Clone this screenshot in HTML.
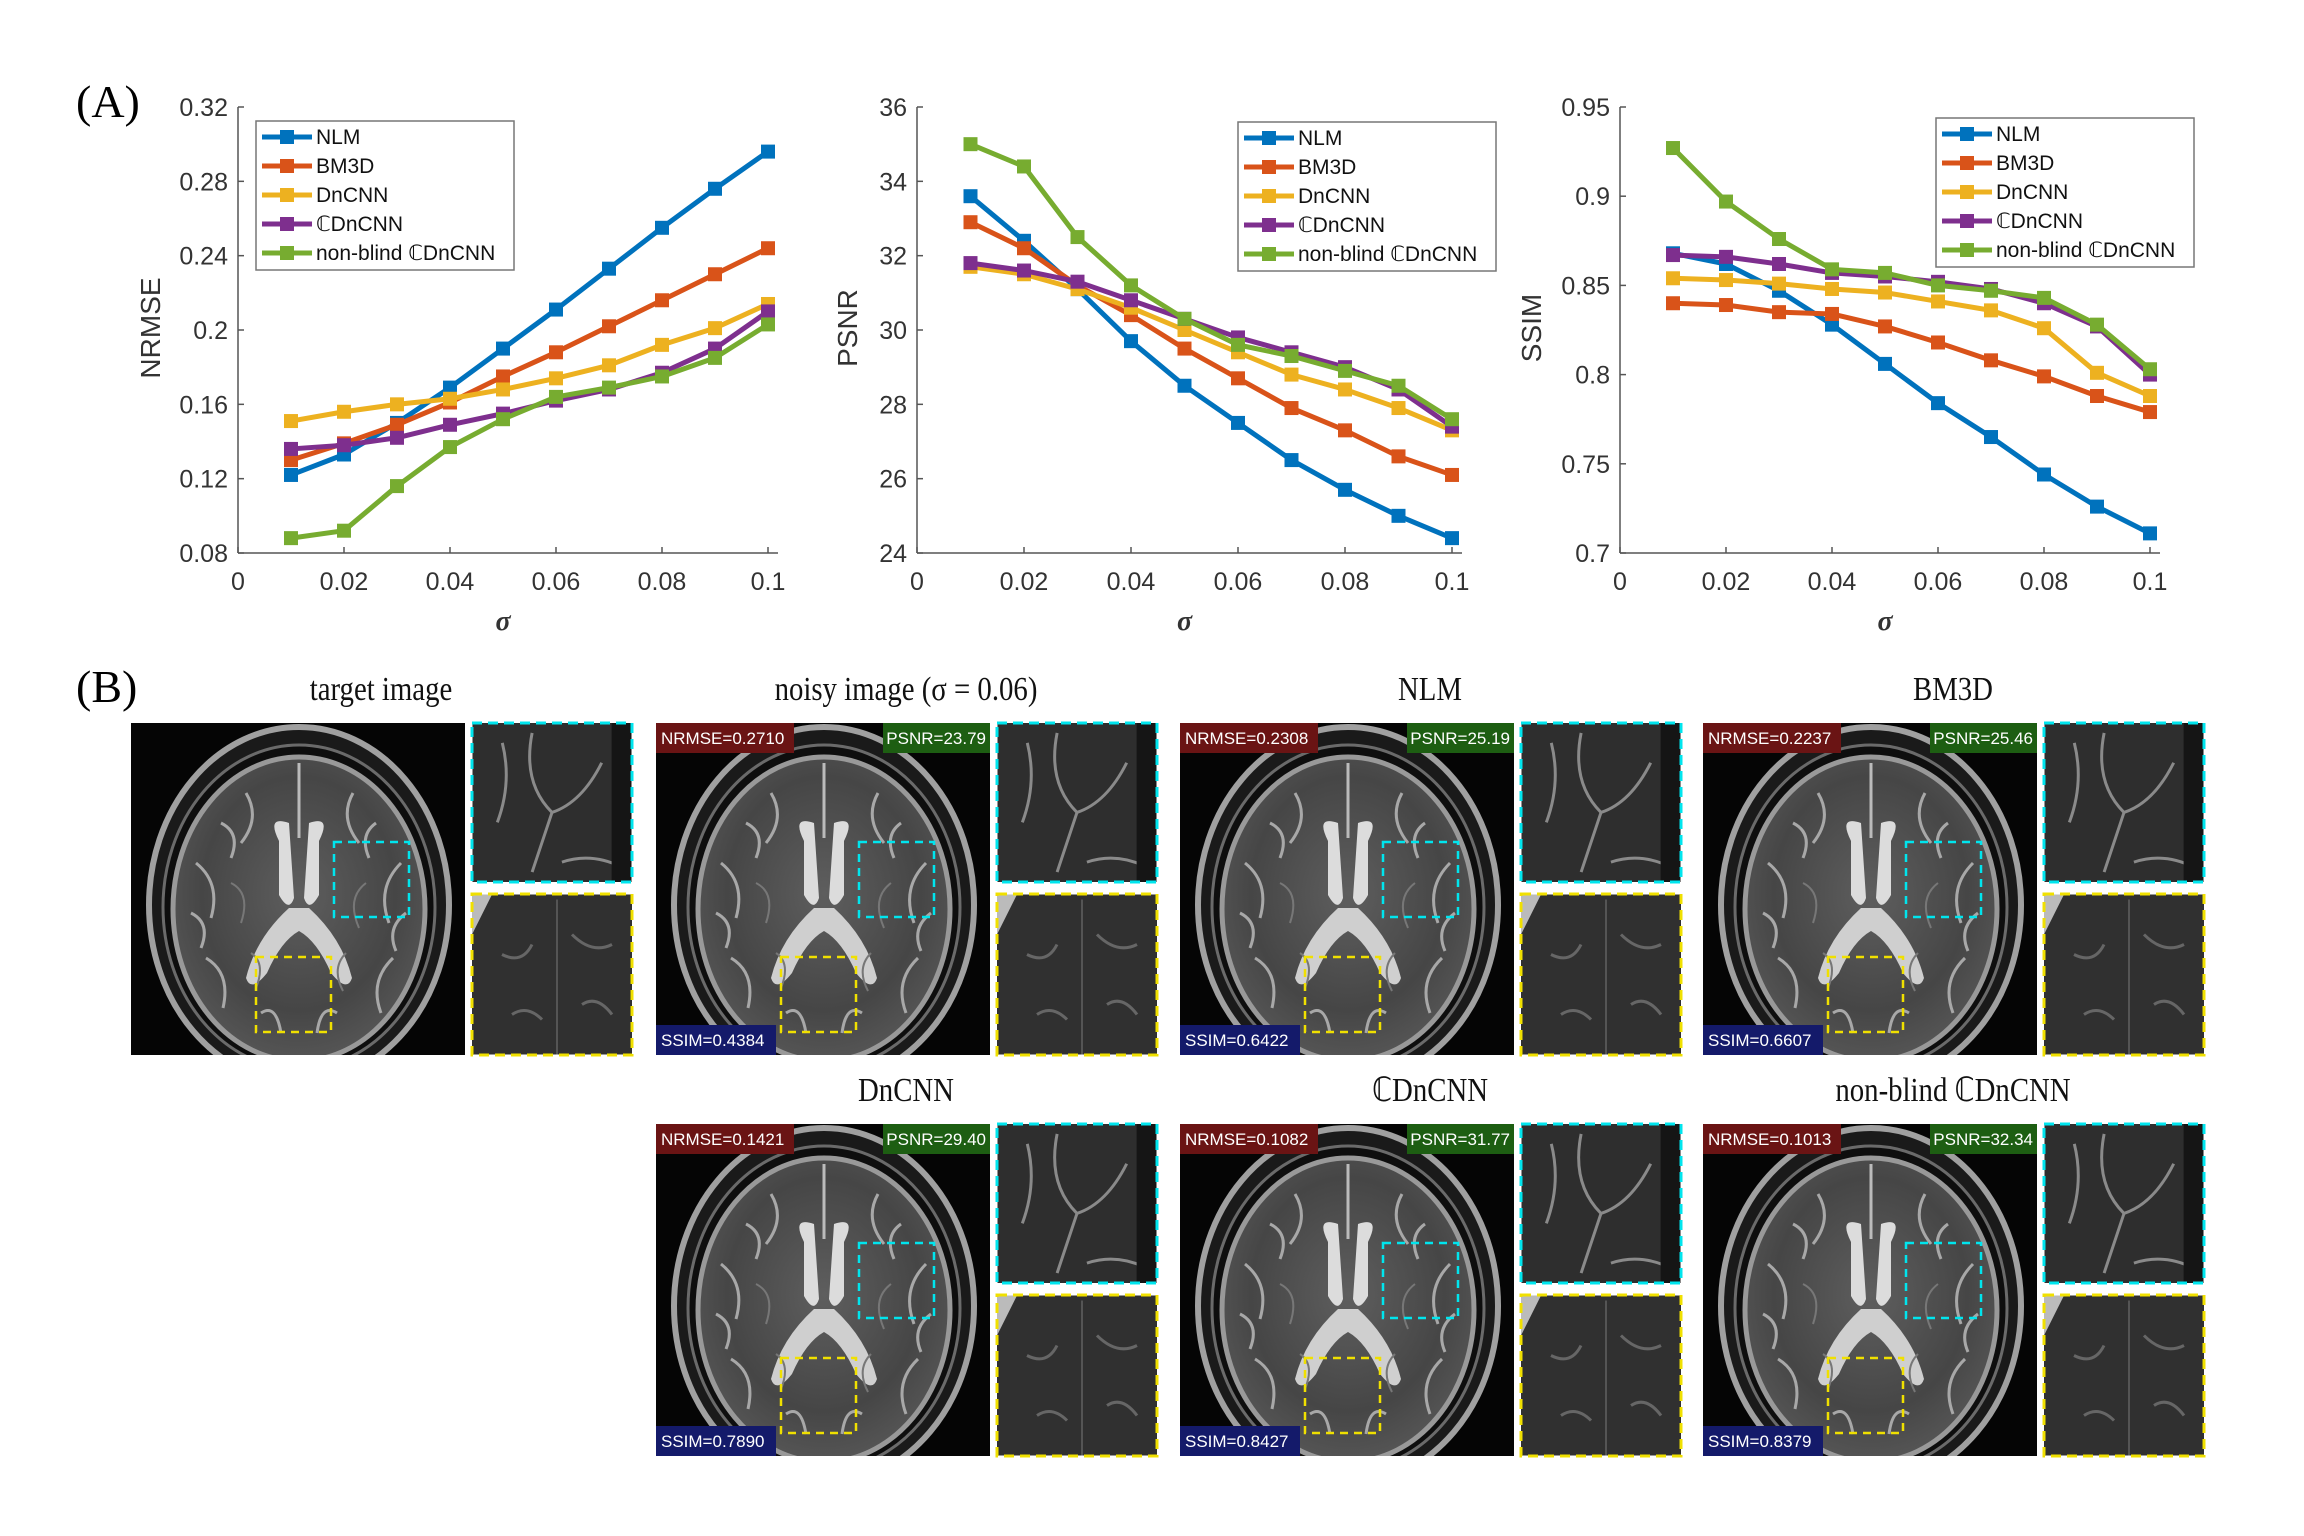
<!DOCTYPE html>
<html><head><meta charset="utf-8">
<style>
html,body{margin:0;padding:0;background:#fff;}
body{width:2304px;height:1536px;overflow:hidden;position:relative;font-family:"Liberation Sans",sans-serif;}
svg{position:absolute;left:0;top:0;}
</style></head>
<body>
<svg id="fig" width="2304" height="1536" viewBox="0 0 2304 1536" xmlns="http://www.w3.org/2000/svg">
<defs>
  <radialGradient id="brainGrad" cx="50%" cy="45%" r="55%">
    <stop offset="0" stop-color="#5e5e5e"/><stop offset="0.7" stop-color="#464646"/><stop offset="1" stop-color="#555"/>
  </radialGradient>
  <symbol id="brain" viewBox="0 0 334 332">
    <rect width="334" height="332" fill="#050505"/>
    <ellipse cx="168" cy="182" rx="150" ry="178" fill="#1a1a1a" stroke="#a0a0a0" stroke-width="6"/>
    <ellipse cx="168" cy="184" rx="136" ry="162" fill="#0e0e0e" stroke="#6a6a6a" stroke-width="3"/>
    <ellipse cx="168" cy="186" rx="126" ry="152" fill="url(#brainGrad)" stroke="#999" stroke-width="5"/>
    <path d="M168 40 L168 115" stroke="#bbb" stroke-width="3"/>
    <path d="M148 118 Q135 92 158 100 L163 175 Q158 190 148 172 Z" fill="#dcdcdc"/>
    <path d="M188 118 Q201 92 178 100 L173 175 Q178 190 188 172 Z" fill="#dcdcdc"/>
    <path d="M158 185 Q125 215 115 255 Q120 270 136 250 Q150 218 168 208 Q186 218 200 250 Q216 270 221 255 Q211 215 178 185 Z" fill="#cfcfcf"/>
    <g stroke="#a8a8a8" stroke-width="3" fill="none">
      <path d="M65 140 Q90 160 80 195 M270 140 Q245 165 258 200 M75 235 Q100 250 92 285 M262 235 Q238 258 250 290"/>
      <path d="M115 70 Q130 95 110 120 M222 70 Q208 95 228 120 M90 100 Q110 110 100 135 M245 100 Q228 112 238 135"/>
      <path d="M60 190 Q80 200 70 225 M275 190 Q255 205 265 228 M130 290 Q145 280 150 310 M206 290 Q190 280 186 310"/>
    </g>
    <g stroke="#777" stroke-width="2" fill="none">
      <path d="M100 160 Q120 170 110 200 M235 160 Q215 175 228 205 M120 230 Q135 240 125 265 M215 230 Q200 245 212 268"/>
    </g>
  </symbol>
  <symbol id="zoomTop" viewBox="0 0 160 160">
    <rect width="160" height="160" fill="#2e2e2e"/>
    <path d="M60 10 Q50 60 80 90 Q70 120 60 150 M80 90 Q110 80 130 40 M90 140 Q120 130 150 145 M30 20 Q40 60 25 100" stroke="#8a8a8a" stroke-width="3" fill="none"/>
    <rect x="140" y="0" width="20" height="160" fill="#151515"/>
  </symbol>
  <symbol id="zoomBot" viewBox="0 0 160 160">
    <rect width="160" height="160" fill="#303030"/>
    <path d="M0 0 L20 0 L0 40 Z" fill="#bbb"/>
    <path d="M85 5 L85 160" stroke="#555" stroke-width="2"/>
    <path d="M30 60 Q50 70 60 50 M100 40 Q120 60 140 50 M40 120 Q55 110 70 125 M110 110 Q125 100 140 120" stroke="#666" stroke-width="3" fill="none"/>
  </symbol>
</defs>
<g id="charts"></g>
<g id="panelB"></g>
</svg>
<script>
var NS="http://www.w3.org/2000/svg";
function mk(tag,attrs,parent,txt){var e=document.createElementNS(NS,tag);for(var k in attrs)e.setAttribute(k,attrs[k]);if(txt!==undefined)e.textContent=txt;parent.appendChild(e);return e;}

var sigma=[0.01,0.02,0.03,0.04,0.05,0.06,0.07,0.08,0.09,0.1];
var methods=["NLM","BM3D","DnCNN","\u2102DnCNN","non-blind \u2102DnCNN"];
var colors=["#0072BD","#D95319","#EDB120","#7E2F8E","#77AC30"];
var xTicks=[0,0.02,0.04,0.06,0.08,0.1];
var xTickLabels=["0","0.02","0.04","0.06","0.08","0.1"];

var nrmseNLM=[0.122,0.133,0.150,0.169,0.190,0.211,0.233,0.255,0.276,0.296];
var nrmseBM3D=[0.130,0.139,0.149,0.161,0.175,0.188,0.202,0.216,0.230,0.244];
var nrmseDnCNN=[0.151,0.156,0.160,0.163,0.168,0.174,0.181,0.192,0.201,0.214];
var nrmseCDnCNN=[0.136,0.138,0.142,0.149,0.155,0.162,0.168,0.177,0.190,0.210];
var nrmseNB=[0.088,0.092,0.116,0.137,0.152,0.164,0.169,0.175,0.185,0.203];
var nrmseTicks=[0.08,0.12,0.16,0.2,0.24,0.28,0.32];
var nrmseTickLabels=["0.08","0.12","0.16","0.2","0.24","0.28","0.32"];

var psnrNLM=[33.6,32.4,31.1,29.7,28.5,27.5,26.5,25.7,25.0,24.4];
var psnrBM3D=[32.9,32.2,31.2,30.4,29.5,28.7,27.9,27.3,26.6,26.1];
var psnrDnCNN=[31.7,31.5,31.1,30.6,30.0,29.4,28.8,28.4,27.9,27.3];
var psnrCDnCNN=[31.8,31.6,31.3,30.8,30.3,29.8,29.4,29.0,28.4,27.4];
var psnrNB=[35.0,34.4,32.5,31.2,30.3,29.6,29.3,28.9,28.5,27.6];
var psnrTicks=[24,26,28,30,32,34,36];
var psnrTickLabels=["24","26","28","30","32","34","36"];

var ssimNLM=[0.868,0.862,0.847,0.828,0.806,0.784,0.765,0.744,0.726,0.711];
var ssimBM3D=[0.840,0.839,0.835,0.834,0.827,0.818,0.808,0.799,0.788,0.779];
var ssimDnCNN=[0.854,0.853,0.851,0.848,0.846,0.841,0.836,0.826,0.801,0.788];
var ssimCDnCNN=[0.867,0.866,0.862,0.857,0.855,0.852,0.848,0.840,0.827,0.800];
var ssimNB=[0.927,0.897,0.876,0.859,0.857,0.850,0.847,0.843,0.828,0.803];
var ssimTicks=[0.7,0.75,0.8,0.85,0.9,0.95];
var ssimTickLabels=["0.7","0.75","0.8","0.85","0.9","0.95"];

var charts=[
 {name:"nrmse",title:"NRMSE",series:[nrmseNLM,nrmseBM3D,nrmseDnCNN,nrmseCDnCNN,nrmseNB],ticks:nrmseTicks,labels:nrmseTickLabels,ymin:0.08,ymax:0.32,x0:238,x1:768,legX:256,legY:121,ylabX:160},
 {name:"psnr",title:"PSNR",series:[psnrNLM,psnrBM3D,psnrDnCNN,psnrCDnCNN,psnrNB],ticks:psnrTicks,labels:psnrTickLabels,ymin:24,ymax:36,x0:917,x1:1452,legX:1238,legY:122,ylabX:857},
 {name:"ssim",title:"SSIM",series:[ssimNLM,ssimBM3D,ssimDnCNN,ssimCDnCNN,ssimNB],ticks:ssimTicks,labels:ssimTickLabels,ymin:0.7,ymax:0.95,x0:1620,x1:2150,legX:1936,legY:118,ylabX:1541}
];
var yTop=107,yBot=553;
var root=document.getElementById("charts");
var A=mk("text",{x:76,y:117,"font-family":"Liberation Serif, serif","font-size":46},root,"(A)");



charts.forEach(function(c){
  var g=mk("g",{},root);
  
  
  function sx(v){return c.x0+(v-0)/(0.1-0)*(c.x1-c.x0);}
  function sy(v){return yBot-(v-c.ymin)/(c.ymax-c.ymin)*(yBot-yTop);}
  var ya=mk("line",{x1:c.x0,y1:yTop,x2:c.x0,y2:yBot,stroke:"#555","stroke-width":1.5},g);
  
  
  var xa=mk("line",{x1:c.x0,y1:yBot,x2:c.x1+10,y2:yBot,stroke:"#555","stroke-width":1.5},g);
  
  
  c.ticks.forEach(function(t,i){
    mk("line",{x1:c.x0,y1:sy(t),x2:c.x0+6,y2:sy(t),stroke:"#555","stroke-width":1.5},g);
    var tl=mk("text",{x:c.x0-10,y:sy(t)+9,"text-anchor":"end","font-size":25,fill:"#333"},g,c.labels[i]);
    
    
  });
  xTicks.forEach(function(t,i){
    mk("line",{x1:sx(t),y1:yBot,x2:sx(t),y2:yBot-6,stroke:"#555","stroke-width":1.5},g);
    var tl=mk("text",{x:sx(t),y:590,"text-anchor":"middle","font-size":25,fill:"#333"},g,xTickLabels[i]);
    
    
  });
  var yl=mk("text",{x:c.ylabX,y:328,"text-anchor":"middle","font-size":28,fill:"#333",transform:"rotate(-90 "+c.ylabX+" 328)"},g,c.title);
  
  
  var xl=mk("text",{x:(c.x0+c.x1)/2,y:630,"text-anchor":"middle","font-size":28,"font-style":"italic","font-weight":"bold","font-family":"Liberation Serif, serif",fill:"#333"},g,"\u03c3");
  
  
  c.series.forEach(function(s,k){
    var pts=s.map(function(v,i){return sx(sigma[i])+","+sy(v);}).join(" ");
    var pl=mk("polyline",{points:pts,fill:"none",stroke:colors[k],"stroke-width":5,"stroke-linejoin":"round"},g);
    
    
    s.forEach(function(v,i){
      var m=mk("rect",{x:sx(sigma[i])-7,y:sy(v)-7,width:14,height:14,fill:colors[k]},g);
      
      
    });
  });
  var lg=mk("g",{},g);
  
  
  mk("rect",{x:c.legX,y:c.legY,width:258,height:149,fill:"#fff",stroke:"#777","stroke-width":1.5},lg);
  methods.forEach(function(m,k){
    var yy=c.legY+16+k*29;
    mk("line",{x1:c.legX+6,y1:yy,x2:c.legX+56,y2:yy,stroke:colors[k],"stroke-width":5},lg);
    mk("rect",{x:c.legX+24,y:yy-7,width:14,height:14,fill:colors[k]},lg);
    var t=mk("text",{x:c.legX+60,y:yy+7,"font-size":21,fill:"#111"},lg,m);
    
    
  });
});

// Panel B
var pb=document.getElementById("panelB");
var B=mk("text",{x:76,y:702,"font-family":"Liberation Serif, serif","font-size":46},pb,"(B)");


var panels=[
 {t:"target image",x:131,y:723,m:null},
 {t:"noisy image (\u03c3 = 0.06)",x:656,y:723,m:["NRMSE=0.2710","PSNR=23.79","SSIM=0.4384"]},
 {t:"NLM",x:1180,y:723,m:["NRMSE=0.2308","PSNR=25.19","SSIM=0.6422"]},
 {t:"BM3D",x:1703,y:723,m:["NRMSE=0.2237","PSNR=25.46","SSIM=0.6607"]},
 {t:"DnCNN",x:656,y:1124,m:["NRMSE=0.1421","PSNR=29.40","SSIM=0.7890"]},
 {t:"\u2102DnCNN",x:1180,y:1124,m:["NRMSE=0.1082","PSNR=31.77","SSIM=0.8427"]},
 {t:"non-blind \u2102DnCNN",x:1703,y:1124,m:["NRMSE=0.1013","PSNR=32.34","SSIM=0.8379"]}
];
panels.forEach(function(p,i){
  var g=mk("g",{},pb);
  
  
  var tt=mk("text",{x:p.x+250,y:p.y-23,"text-anchor":"middle","font-family":"Liberation Serif, serif","font-size":32,"transform-origin":(p.x+250)+"px "+(p.y-23)+"px",transform:"scale(0.9,1.05)",fill:"#111"},g,p.t);
  
  
  mk("use",{href:"#brain",x:p.x,y:p.y,width:334,height:332},g);
  mk("rect",{x:p.x+203,y:p.y+119,width:75,height:75,fill:"none",stroke:"#00e5ee","stroke-width":2.5,"stroke-dasharray":"8 6"},g);
  mk("rect",{x:p.x+125,y:p.y+234,width:75,height:75,fill:"none",stroke:"#f0e000","stroke-width":2.5,"stroke-dasharray":"8 6"},g);
  mk("use",{href:"#zoomTop",x:p.x+341,y:p.y,width:160,height:159},g);
  mk("rect",{x:p.x+341,y:p.y,width:160,height:159,fill:"none",stroke:"#00e5ee","stroke-width":3,"stroke-dasharray":"10 6"},g);
  mk("use",{href:"#zoomBot",x:p.x+341,y:p.y+171,width:160,height:161},g);
  mk("rect",{x:p.x+341,y:p.y+171,width:160,height:161,fill:"none",stroke:"#f0e000","stroke-width":3,"stroke-dasharray":"10 6"},g);
  if(p.m){
    mk("rect",{x:p.x,y:p.y,width:138,height:30,fill:"#6a1414"},g);
    var a=mk("text",{x:p.x+5,y:p.y+21,"font-size":17,fill:"#fff"},g,p.m[0]);
    
    
    mk("rect",{x:p.x+227,y:p.y,width:107,height:30,fill:"#1d5e12"},g);
    var b=mk("text",{x:p.x+330,y:p.y+21,"font-size":17,fill:"#fff","text-anchor":"end"},g,p.m[1]);
    
    
    mk("rect",{x:p.x,y:p.y+302,width:120,height:30,fill:"#141a6a"},g);
    var c=mk("text",{x:p.x+5,y:p.y+323,"font-size":17,fill:"#fff"},g,p.m[2]);
    
    
  }
});
</script>
</body></html>
